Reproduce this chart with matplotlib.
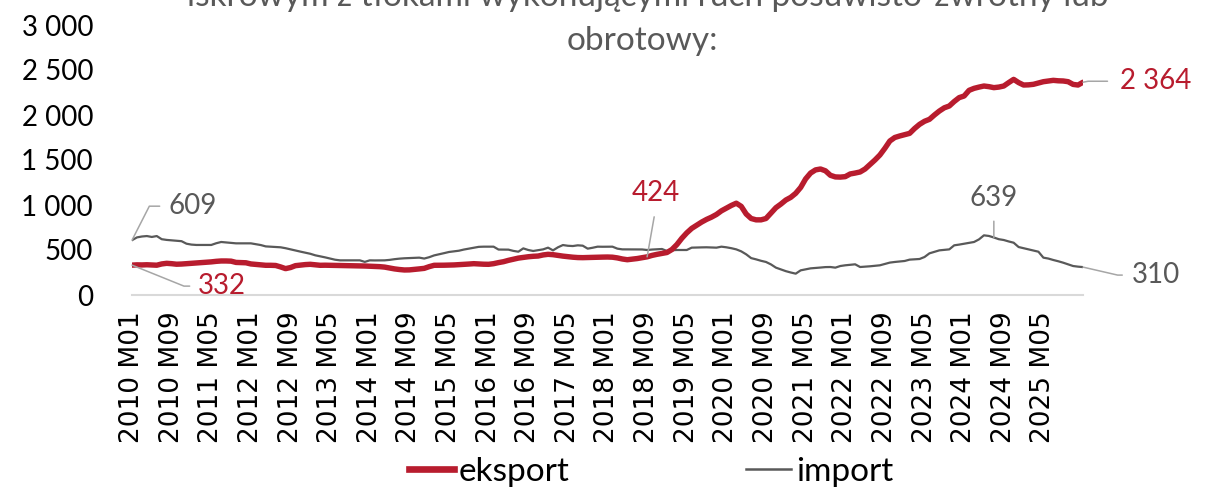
import matplotlib
matplotlib.use("Agg")
import matplotlib.pyplot as plt
from matplotlib.lines import Line2D

plt.rcParams['font.family'] = ['Lato', 'DejaVu Sans']

# ---------------- data ----------------
eksport = [
    332, 335, 334, 336, 333, 331, 345, 352, 348, 342,
    344, 348, 352, 355, 360, 363, 368, 374, 378, 378,
    376, 362, 360, 358, 345, 340, 335, 330, 330, 328,
    312, 293, 305, 326, 332, 338, 341, 336, 330, 331,
    330, 328, 327, 326, 325, 326, 324, 322, 320, 318,
    315, 310, 300, 290, 283, 278, 279, 284, 290, 296,
    315, 330, 330, 331, 332, 334, 337, 340, 344, 348,
    345, 342, 341, 348, 360, 370, 385, 398, 410, 418,
    425, 430, 433, 445, 452, 448, 440, 432, 426, 420,
    416, 415, 416, 418, 420, 421, 422, 420, 412, 400,
    392, 398, 405, 415, 424, 440, 452, 462, 472, 505,
    560, 630, 690, 740, 775, 810, 840, 865, 895, 935,
    965, 995, 1020, 985, 900, 850, 835, 835, 850, 910,
    970, 1010, 1055, 1085, 1130, 1195, 1290, 1355, 1390, 1400,
    1380, 1330, 1312, 1310, 1315, 1345, 1355, 1367, 1400, 1450,
    1500, 1556, 1630, 1711, 1750, 1767, 1782, 1796, 1850, 1896,
    1930, 1952, 2000, 2044, 2080, 2100, 2150, 2193, 2211, 2274,
    2296, 2310, 2322, 2315, 2304, 2310, 2322, 2360, 2396, 2360,
    2333, 2335, 2341, 2355, 2370, 2378, 2385, 2380, 2378, 2370,
    2340, 2333, 2364,
]

import_ = [
    609, 640, 650, 655, 645, 655, 620, 612, 607, 603,
    598, 570, 560, 556, 556, 555, 556, 575, 589, 584,
    578, 574, 574, 574, 574, 565, 555, 540, 537, 534,
    530, 520, 507, 495, 482, 470, 458, 441, 430, 418,
    405, 392, 385, 385, 384, 386, 385, 368, 385, 384,
    385, 385, 390, 398, 404, 408, 410, 412, 415, 405,
    420, 440, 452, 465, 478, 485, 492, 505, 515, 525,
    535, 537, 537, 537, 505, 504, 504, 490, 481, 518,
    500, 489, 498, 507, 526, 496, 530, 555, 547, 544,
    552, 548, 515, 525, 537, 536, 537, 537, 515, 507,
    507, 506, 507, 506, 500, 505, 508, 511, 489, 497,
    500, 500, 500, 526, 528, 529, 530, 528, 526, 537,
    530, 520, 507, 485, 452, 410, 396, 380, 367, 340,
    304, 285, 265, 250, 237, 274, 285, 296, 300, 305,
    310, 311, 304, 322, 330, 336, 341, 311, 315, 319,
    325, 330, 345, 360, 367, 372, 378, 393, 396, 400,
    422, 463, 480, 496, 502, 507, 552, 560, 570, 581,
    589, 618, 663, 656, 639, 620, 611, 595, 581, 533,
    520, 507, 495, 481, 415, 405, 389, 375, 359, 341,
    322, 315, 310,
]

tick_labels = [
    "2010 M01", "2010 M09", "2011 M05", "2012 M01", "2012 M09", "2013 M05",
    "2014 M01", "2014 M09", "2015 M05", "2016 M01", "2016 M09", "2017 M05",
    "2018 M01", "2018 M09", "2019 M05", "2020 M01", "2020 M09", "2021 M05",
    "2022 M01", "2022 M09", "2023 M05", "2024 M01", "2024 M09", "2025 M05",
]

y_ticks = [0, 500, 1000, 1500, 2000, 2500, 3000]
y_tick_labels = ["0", "500", "1 000", "1 500", "2 000", "2 500", "3 000"]

title_lines = ["iskrowym z tłokami wykonującymi ruch posuwisto-zwrotny lub",
               "obrotowy:"]

series_names = ["eksport", "import"]

# month categories 2010 M01 ... (one per data point)
months = []
y, m = 2010, 1
for _ in range(len(eksport)):
    months.append(f"{y} M{m:02d}")
    m += 1
    if m > 12:
        m = 1
        y += 1

RED = "#B81C2E"
GRAY = "#595959"
LEADER = "#A6A6A6"

W, H = 1217, 491
fig = plt.figure(figsize=(W / 100, H / 100), dpi=100)
L, R, T, B = 132, 1083, 25, 295
ax = fig.add_axes([L / W, 1 - B / H, (R - L) / W, (B - T) / H])

x = list(range(len(months)))
ax.plot(x, import_, color=GRAY, lw=1.6, solid_joinstyle='round', zorder=2)
ax.plot(x, eksport, color=RED, lw=3.9, solid_joinstyle='round',
        solid_capstyle='round', zorder=3)

ax.set_xlim(0, len(months) - 1)
ax.set_ylim(0, 3000)

tick_pos = [months.index(t) for t in tick_labels]
ax.set_xticks(tick_pos)
ax.set_xticklabels(tick_labels, rotation=90, fontfamily='DejaVu Sans',
                   fontsize=19, color='black')
ax.set_yticks(y_ticks)
ax.set_yticklabels(y_tick_labels, fontsize=20, color='black')
ax.tick_params(axis='x', length=0, pad=12)
ax.tick_params(axis='y', length=0, pad=28)

for s in ['top', 'right', 'left']:
    ax.spines[s].set_visible(False)
ax.spines['bottom'].set_color('#D9D9D9')
ax.spines['bottom'].set_linewidth(1.5)

PX = 0.72  # pixels -> points


def label(i, vals, text, color, dx, dy, ha, va, angleB=None, relpos=(0, 0.5),
          shrinkA=4):
    conn = 'arc3' if angleB is None else f'angle,angleA=0,angleB={angleB},rad=0'
    ax.annotate(text, xy=(i, vals[i]), xytext=(dx * PX, dy * PX),
                textcoords='offset points', ha=ha, va=va, fontsize=20,
                color=color, zorder=5,
                arrowprops=dict(arrowstyle='-', color=LEADER, lw=1.1,
                                shrinkA=shrinkA, shrinkB=0, relpos=relpos,
                                connectionstyle=conn))


last = len(months) - 1
i_424 = months.index("2018 M09")
i_639 = months.index("2024 M07")
label(0, import_, "609", GRAY, 36, 34, 'left', 'center', angleB=63)
label(0, eksport, "332", RED, 66, -21, 'left', 'center', angleB=-22)
label(i_424, eksport, "424", RED, 9, 64, 'center', 'center', relpos=(0.5, 0),
      shrinkA=6)
label(last, eksport, "2 364", RED, 37, 1, 'left', 'center', angleB=11,
      shrinkA=7)
label(i_639, import_, "639", GRAY, 0, 39, 'center', 'center', relpos=(0.5, 0),
      shrinkA=5)
label(last, import_, "310", GRAY, 49, -8, 'left', 'center', angleB=-13,
      shrinkA=5)

# title (upper line partially outside the canvas, as in the reference)
fig.text(648 / W, 1 - 6 / H, title_lines[0], ha='center', va='baseline',
         fontsize=24, color=GRAY)
fig.text(642 / W, 1 - 50 / H, title_lines[1], ha='center', va='baseline',
         fontsize=24, color=GRAY)

handles = [Line2D([], [], color=RED, lw=4.8),
           Line2D([], [], color=GRAY, lw=1.8)]
fig.legend(handles, series_names, loc='center',
           bbox_to_anchor=(651 / W, 1 - 472 / H), ncol=2, frameon=False,
           fontsize=24, handlelength=1.35, handletextpad=0.15,
           columnspacing=5.3, borderpad=0, borderaxespad=0)

fig.savefig("out.png", dpi=100)
